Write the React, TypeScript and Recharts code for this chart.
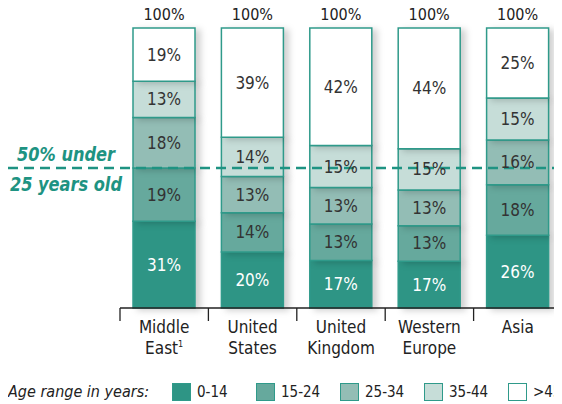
import React from 'react';
import { BarChart, Bar, XAxis, YAxis, ReferenceLine, LabelList } from 'recharts';

const categories = ['Middle East', 'United States', 'United Kingdom', 'Western Europe', 'Asia'];
const footnotes = ['1', '', '', '', ''];
const age0to14 = [31, 20, 17, 17, 26];
const age15to24 = [19, 14, 13, 13, 18];
const age25to34 = [18, 13, 13, 13, 16];
const age35to44 = [13, 14, 15, 15, 15];
const age45plus = [19, 39, 42, 44, 25];
const totalLabel = '100%';

const seriesKeys = ['a0', 'a15', 'a25', 'a35', 'a45'];
const seriesValues = [age0to14, age15to24, age25to34, age35to44, age45plus];
const seriesNames = ['0-14', '15-24', '25-34', '35-44', '>45'];
const seriesColors = ['#2e9585', '#66a99d', '#93bdb5', '#c6ddd8', '#ffffff'];

const data = categories.map((name, i) => {
    const row: any = { name, note: footnotes[i] };
    seriesKeys.forEach((k, s) => { row[k] = seriesValues[s][i]; });
    return row;
});

const FONT = '"Liberation Sans Narrow", "DejaVu Sans Condensed", "Roboto", sans-serif';
const TEAL = '#1e9382';
const STROKE = '#2f9a8a';

const CHART_W = 554;
const CHART_H = 396;
const AXIS_H = 30;
const MARGIN = { top: 20, right: 0, bottom: 96 - AXIS_H, left: 112 };
const BAND = (CHART_W - MARGIN.left - MARGIN.right) / categories.length;

const segmentLabel = (s: number) => (props: any) => {
    const { x, y, width, height, index } = props;
    const v = seriesValues[s][index];
    return (
        <g>
            <text x={x + width / 2} y={y + height / 2 + 6} textAnchor="middle"
                fontFamily={FONT} fontSize={17} fill={s === 0 ? '#ffffff' : '#333333'}>
                {v}%
            </text>
            {s === seriesKeys.length - 1 && (
                <text x={x + width / 2} y={y - 8} textAnchor="middle"
                    fontFamily={FONT} fontSize={16} fill="#222222">
                    {totalLabel}
                </text>
            )}
        </g>
    );
};

const CategoryTick = (props: any) => {
    const { x, y, payload, index } = props;
    const parts = String(payload.value).split(' ');
    const note = footnotes[index];
    return (
        <g>
            <line x1={x - BAND / 2} x2={x - BAND / 2} y1={y} y2={y + 13} stroke="#222" strokeWidth={1.3} />
            <text x={x} y={y + 25} textAnchor="middle" fontFamily={FONT} fontSize={17} fill="#222">
                {parts[0]}
            </text>
            <text x={x} y={y + 46} textAnchor="middle" fontFamily={FONT} fontSize={17} fill="#222">
                {parts.slice(1).join(' ')}
                {note && <tspan fontSize={9} dy={-7}>{note}</tspan>}
            </text>
        </g>
    );
};

const HalfLine = (props: any) => {
    const y = props.y1 ?? props.y;
    const x2 = props.x2 ?? CHART_W;
    const lbl = { fontFamily: FONT, fontSize: 20, fontWeight: 'bold', fontStyle: 'italic', fill: TEAL } as any;
    return (
        <g>
            <line x1={0} x2={x2} y1={y} y2={y} stroke={TEAL} strokeWidth={2.5} strokeDasharray="10 6" />
            <text transform={`translate(107 ${y - 7}) scale(0.9 1)`} textAnchor="end" {...lbl}>50% under</text>
            <text transform={`translate(114 ${y + 23}) scale(0.9 1)`} textAnchor="end" {...lbl}>25 years old</text>
        </g>
    );
};

export default function App() {
    return (
        <div style={{ position: 'relative', width: CHART_W, height: CHART_H, fontFamily: FONT }}>
            <style>{`.age-bar .recharts-rectangle { filter: drop-shadow(5px 2px 3px rgba(0,0,0,0.18)); }
.recharts-surface { overflow: visible; }`}</style>
            <BarChart width={CHART_W} height={CHART_H} data={data} margin={MARGIN}
                stackOffset="expand" barSize={62}>
                <XAxis dataKey="name" height={AXIS_H} tickLine={false} tickSize={0} tickMargin={0}
                    axisLine={{ stroke: '#222', strokeWidth: 1.3 }} tick={<CategoryTick />} interval={0} />
                <YAxis hide domain={[0, 1]} />
                {seriesKeys.map((k, s) => (
                    <Bar key={k} dataKey={k} stackId="age" fill={seriesColors[s]} stroke={STROKE}
                        strokeWidth={1.5} isAnimationActive={false} className="age-bar">
                        <LabelList dataKey={k} content={segmentLabel(s)} />
                    </Bar>
                ))}
                <ReferenceLine y={0.5} shape={<HalfLine />} ifOverflow="visible" />
            </BarChart>
            <div style={{ position: 'absolute', left: 0, top: 376, width: 554, height: 18, fontSize: 16, lineHeight: '16px', color: '#222' }}>
                <span style={{ position: 'absolute', left: 0, top: 0, fontStyle: 'italic', whiteSpace: 'nowrap' }}>
                    Age range in years:
                </span>
                {seriesNames.map((n, s) => (
                    <span key={n} style={{ position: 'absolute', left: 164 + s * 84, top: -1, display: 'flex', alignItems: 'center', whiteSpace: 'nowrap', fontSize: 15 }}>
                        <span style={{ display: 'inline-block', width: 17, height: 16, background: seriesColors[s], border: `1.5px solid ${STROKE}`, marginRight: 6 }} />
                        {n}
                    </span>
                ))}
            </div>
        </div>
    );
}
